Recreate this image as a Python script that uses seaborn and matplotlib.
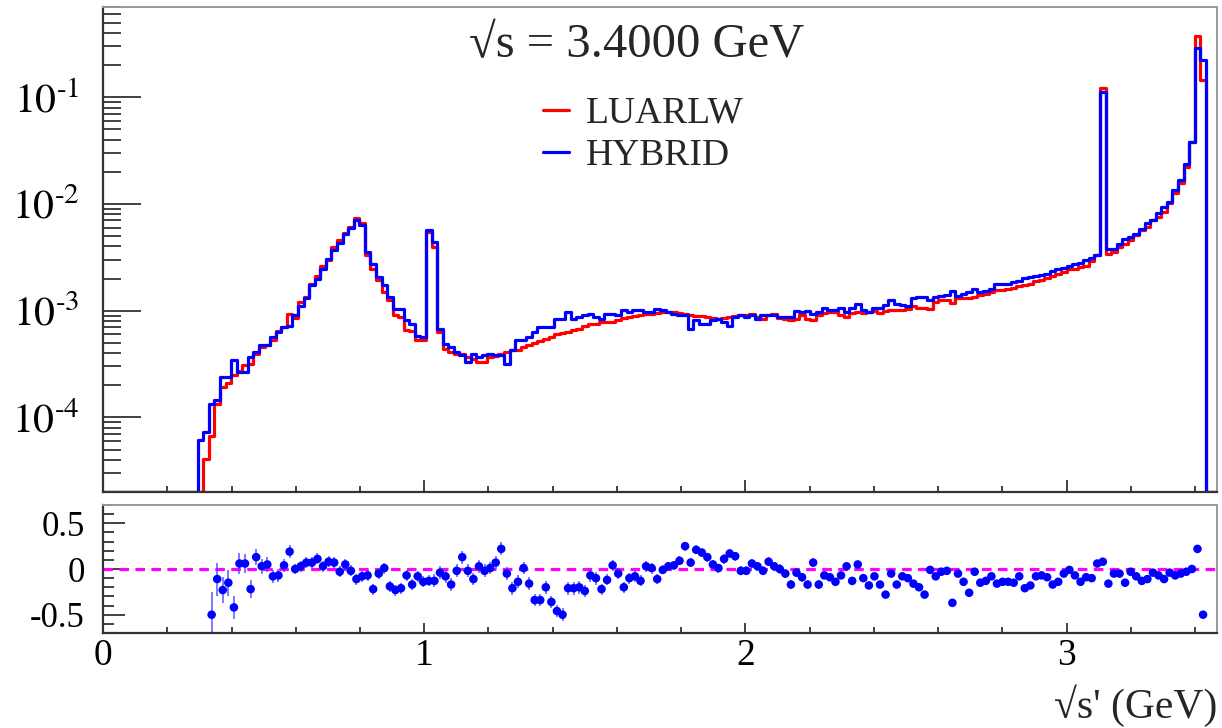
import numpy as np
import pandas as pd
import matplotlib
matplotlib.use("Agg")
import matplotlib.pyplot as plt
import seaborn as sns
from matplotlib.ticker import LogLocator, MultipleLocator, FuncFormatter, NullFormatter

# binning: 200 bins from 0 to 1.02*sqrt(s)
sqrt_s = 3.4
n_bins = 200
x_max = 1.02 * sqrt_s

# LUARLW histogram, first filled bin 18 (units of 1e-3)
luarlw_first = 18
luarlw = [
    0.0407, 0.0675, 0.134, 0.192, 0.210, 0.247, 0.270, 0.307, 0.318, 0.39,
    0.456, 0.48, 0.534, 0.645, 0.71, 0.925, 0.86, 1.21, 1.34, 1.79,
    2.10, 2.61, 3.01, 3.96, 4.57, 5.35, 6.11, 7.46, 6.56, 3.31,
    2.48, 1.93, 1.50, 1.25, 0.904, 0.873, 0.654, 0.645, 0.534, 0.526,
    5.5, 3.96, 0.630, 0.439, 0.409, 0.394, 0.389, 0.367, 0.354, 0.329,
    0.329, 0.367, 0.372, 0.394, 0.409, 0.424, 0.430, 0.456, 0.472, 0.497,
    0.519, 0.546, 0.566, 0.599, 0.617, 0.630, 0.653, 0.677, 0.712, 0.744,
    0.754, 0.776, 0.776, 0.782, 0.823, 0.859, 0.871, 0.897, 0.903, 0.923,
    0.937, 0.950, 0.964, 0.971, 0.964, 0.950, 0.923, 0.903, 0.897, 0.884,
    0.871, 0.859, 0.841, 0.859, 0.871, 0.884, 0.903, 0.903, 0.937, 0.871,
    0.841, 0.903, 0.923, 0.859, 0.841, 0.811, 0.841, 0.903, 0.841, 0.811,
    0.903, 0.950, 0.971, 0.971, 0.903, 0.871, 0.950, 0.971, 0.950, 0.971,
    0.992, 0.950, 0.992, 1.01, 1.02, 1.02, 1.04, 1.10, 1.07, 1.07,
    1.04, 1.21, 1.25, 1.25, 1.18, 1.30, 1.30, 1.32, 1.34, 1.39,
    1.42, 1.50, 1.55, 1.57, 1.61, 1.64, 1.69, 1.73, 1.79, 1.90,
    1.95, 2.04, 2.10, 2.22, 2.31, 2.43, 2.48, 2.57, 2.61, 2.92,
    3.31, 121.4, 3.43, 3.55, 3.96, 4.25, 4.57, 5.09, 5.67, 6.10,
    7.14, 7.57, 8.44, 10.1, 12.53, 15.56, 22.3, 38.3, 376.0, 145.0,
]

# HYBRID histogram, first filled bin 17 (units of 1e-3)
hybrid_first = 17
hybrid = [
    0.061, 0.073, 0.134, 0.144, 0.238, 0.238, 0.347, 0.269, 0.269, 0.367,
    0.409, 0.472, 0.472, 0.566, 0.631, 0.703, 0.72, 0.904, 1.10, 1.30,
    1.73, 2.00, 2.48, 3.06, 3.69, 4.27, 5.28, 5.89, 7.05, 6.33,
    3.56, 2.76, 2.07, 1.73, 1.34, 1.04, 1.04, 0.811, 0.755, 0.574,
    0.566, 5.68, 4.41, 0.677, 0.489, 0.456, 0.409, 0.380, 0.329, 0.394,
    0.367, 0.380, 0.394, 0.380, 0.380, 0.318, 0.424, 0.526, 0.526, 0.566,
    0.630, 0.702, 0.702, 0.702, 0.841, 0.841, 0.971, 0.841, 0.871, 0.903,
    0.937, 0.871, 0.841, 0.937, 0.937, 0.903, 1.007, 0.971, 1.007, 1.007,
    0.971, 0.971, 1.043, 1.007, 0.971, 0.937, 0.903, 0.903, 0.677, 0.811,
    0.754, 0.754, 0.811, 0.841, 0.782, 0.712, 0.871, 0.903, 0.871, 0.903,
    0.841, 0.903, 0.903, 0.903, 0.871, 0.871, 0.871, 0.992, 0.971, 0.992,
    0.937, 0.971, 1.07, 1.01, 1.02, 1.07, 0.971, 1.07, 1.15, 1.02,
    0.971, 1.07, 1.07, 1.12, 1.25, 1.16, 1.12, 1.10, 1.32, 1.34,
    1.34, 1.25, 1.34, 1.36, 1.39, 1.53, 1.36, 1.44, 1.50, 1.61,
    1.50, 1.53, 1.61, 1.79, 1.77, 1.79, 1.86, 1.90, 2.04, 2.07,
    2.10, 2.15, 2.22, 2.35, 2.43, 2.53, 2.60, 2.76, 2.80, 2.97,
    3.14, 3.31, 113.0, 3.82, 3.82, 4.25, 4.74, 4.91, 5.28, 5.88,
    6.56, 7.05, 8.14, 9.40, 10.47, 13.48, 16.73, 23.6, 38.3, 288.0,
    224.0,
]

# (LUARLW - HYBRID) / HYBRID, first point in bin 19
ratio_first = 19
ratio = [
    -0.50, -0.11, -0.23, -0.15, -0.42, 0.06, 0.06, -0.22, 0.13, 0.03,
    0.05, -0.08, -0.07, 0.04, 0.19, 0.00, 0.03, 0.07, 0.07, 0.11,
    0.03, 0.08, 0.07, -0.03, 0.05, -0.02, -0.11, -0.08, -0.07, -0.22,
    -0.05, 0.01, -0.19, -0.23, -0.21, -0.07, -0.17, -0.08, -0.14, -0.13,
    -0.13, -0.04, -0.08, -0.17, -0.02, 0.13, -0.02, -0.11, 0.03, -0.02,
    0.01, 0.07, 0.22, -0.05, -0.21, -0.14, 0.01, -0.16, -0.34, -0.34,
    -0.20, -0.36, -0.46, -0.50, -0.21, -0.21, -0.20, -0.24, -0.07, -0.10,
    -0.22, -0.12, 0.04, -0.05, -0.20, -0.10, -0.08, -0.13, 0.03, 0.01,
    -0.11, -0.01, 0.03, 0.04, 0.09, 0.25, 0.07, 0.21, 0.18, 0.13,
    0.05, 0.01, 0.11, 0.17, 0.14, -0.02, -0.02, 0.06, 0.03, -0.02,
    0.08, 0.03, 0.00, -0.05, -0.17, -0.04, -0.09, -0.17, 0.07, -0.17,
    -0.07, -0.09, -0.14, -0.07, 0.03, -0.13, 0.05, -0.10, -0.18, -0.08,
    -0.17, -0.28, -0.05, -0.17, -0.08, -0.10, -0.16, -0.20, -0.28, -0.01,
    -0.08, -0.03, -0.02, -0.37, -0.05, -0.14, -0.26, -0.03, -0.15, -0.13,
    -0.08, -0.16, -0.14, -0.14, -0.15, -0.08, -0.21, -0.18, -0.08, -0.07,
    -0.09, -0.17, -0.14, -0.05, -0.01, -0.07, -0.14, -0.09, -0.10, 0.06,
    0.08, -0.16, -0.05, -0.05, -0.15, -0.03, -0.08, -0.13, -0.11, -0.04,
    -0.07, -0.11, -0.04, -0.07, -0.05, -0.03, 0.00, 0.22, -0.50,
]
ratio_err = [
    0.25, 0.18, 0.14, 0.14, 0.13, 0.11, 0.10, 0.10, 0.09, 0.08,
    0.08, 0.07, 0.07, 0.07, 0.07, 0.06, 0.06, 0.06, 0.06, 0.06,
    0.06, 0.06, 0.06, 0.06, 0.06, 0.06, 0.06, 0.06, 0.06, 0.06,
    0.06, 0.06, 0.06, 0.06, 0.06, 0.06, 0.06, 0.06, 0.06, 0.06,
    0.07, 0.07, 0.07, 0.07, 0.07, 0.07, 0.07, 0.07, 0.07, 0.07,
    0.07, 0.07, 0.07, 0.07, 0.07, 0.07, 0.07, 0.07, 0.07, 0.07,
    0.07, 0.07, 0.07, 0.07, 0.07, 0.07, 0.07, 0.07, 0.07, 0.07,
    0.06, 0.06, 0.06, 0.06, 0.06, 0.06, 0.06, 0.06, 0.06, 0.06,
    0.05, 0.05, 0.05, 0.05, 0.05, 0.05, 0.05, 0.05, 0.05, 0.05,
    0.05, 0.05, 0.05, 0.05, 0.05, 0.05, 0.05, 0.05, 0.05, 0.05,
    0.05, 0.05, 0.05, 0.05, 0.05, 0.05, 0.05, 0.05, 0.05, 0.05,
    0.04, 0.04, 0.04, 0.04, 0.04, 0.04, 0.04, 0.04, 0.04, 0.04,
    0.04, 0.04, 0.04, 0.04, 0.04, 0.04, 0.04, 0.04, 0.04, 0.04,
    0.04, 0.04, 0.04, 0.04, 0.04, 0.04, 0.04, 0.04, 0.04, 0.04,
    0.03, 0.03, 0.03, 0.03, 0.03, 0.03, 0.03, 0.03, 0.03, 0.03,
    0.03, 0.03, 0.03, 0.03, 0.03, 0.03, 0.03, 0.03, 0.03, 0.03,
    0.03, 0.03, 0.03, 0.03, 0.03, 0.02, 0.02, 0.02, 0.02, 0.02,
    0.02, 0.02, 0.02, 0.02, 0.02, 0.01, 0.01, 0.01, 0.01,
]

edges = np.linspace(0, x_max, n_bins + 1)
centers = 0.5 * (edges[1:] + edges[:-1])

h_lu = np.zeros(n_bins)
h_lu[luarlw_first:luarlw_first + len(luarlw)] = np.array(luarlw) * 1e-3
h_hy = np.zeros(n_bins)
h_hy[hybrid_first:hybrid_first + len(hybrid)] = np.array(hybrid) * 1e-3

# ROOT draws empty bins on the frame bottom
y_lo, y_hi = 2e-5, 0.7
df_hist = pd.DataFrame({
    "center": centers,
    "LUARLW": np.maximum(h_lu, y_lo),
    "HYBRID": np.maximum(h_hy, y_lo),
})

x_ratio = centers[ratio_first:ratio_first + len(ratio)]
df_ratio = pd.DataFrame({"x": x_ratio, "ratio": ratio, "err": ratio_err})

sns.set_style("ticks")
plt.rcParams["font.family"] = ["Liberation Serif", "DejaVu Serif"]
plt.rcParams["mathtext.fontset"] = "stix"

fig = plt.figure(figsize=(12.22, 7.28), dpi=100)
ax_top = fig.add_axes([0.0843, 0.3242, 0.9116, 0.6662])
ax_bot = fig.add_axes([0.0843, 0.1305, 0.9116, 0.1758])

for name, col in (("LUARLW", "#ff0000"), ("HYBRID", "#0000ff")):
    sns.histplot(data=df_hist, x="center", weights=name, bins=edges.tolist(), element="step",
                 fill=False, color=col, lw=2.3, ax=ax_top, label=name)
ax_top.set_yscale("log")
ax_top.set_xlim(0, x_max)
ax_top.set_ylim(y_lo, y_hi)
ax_top.set_xlabel("")
ax_top.set_ylabel("")


def log_label(v, _):
    e = int(round(np.log10(v)))
    if e < 0:
        return r"$10^{\text{-}%d}$" % (-e)
    return r"$10^{%d}$" % e


ax_top.yaxis.set_major_locator(LogLocator(base=10, numticks=12))
ax_top.yaxis.set_minor_locator(LogLocator(base=10, subs=np.arange(2, 10), numticks=12))
ax_top.yaxis.set_major_formatter(FuncFormatter(log_label))
ax_top.yaxis.set_minor_formatter(NullFormatter())
ax_top.xaxis.set_major_locator(MultipleLocator(1))
ax_top.xaxis.set_minor_locator(MultipleLocator(0.2))
ax_top.tick_params(axis="y", which="major", direction="in", length=27, width=1.3,
                   labelsize=30, pad=17)
ax_top.tick_params(axis="y", which="minor", direction="in", length=13, width=1.3)
ax_top.tick_params(axis="x", which="major", direction="in", length=9, width=1.3, labelbottom=False)
ax_top.tick_params(axis="x", which="minor", direction="in", length=4.5, width=1.3)

ax_top.text(0.479, 0.922, "\u221As = 3.4000 GeV", transform=ax_top.transAxes,
            ha="center", va="center", fontsize=35)
ax_top.legend(loc="upper left", bbox_to_anchor=(0.395, 0.816), frameon=False, fontsize=27,
              handlelength=0.7, handletextpad=0.45, labelspacing=0.2, borderpad=0,
              borderaxespad=0)

# ratio panel
ax_bot.axhline(0, color="#ff00ff", ls=(0, (3, 2)), lw=2.3, zorder=1)
ax_bot.errorbar(df_ratio["x"], df_ratio["ratio"], yerr=df_ratio["err"], fmt="none",
                ecolor="#4040ff", elinewidth=1.3, alpha=0.75, zorder=2)
sns.scatterplot(data=df_ratio, x="x", y="ratio", color="#0000ff", s=38, edgecolor="none",
                ax=ax_bot, zorder=3)
ax_bot.set_xlim(0, x_max)
ax_bot.set_ylim(-0.7, 0.7)
ax_bot.yaxis.set_major_locator(MultipleLocator(0.5))
ax_bot.yaxis.set_minor_locator(MultipleLocator(0.1))
ax_bot.xaxis.set_major_locator(MultipleLocator(1))
ax_bot.xaxis.set_minor_locator(MultipleLocator(0.2))
fmt = FuncFormatter(lambda v, _: f"{v:g}" if abs(v) > 1e-9 else "0")
ax_bot.yaxis.set_major_formatter(fmt)
ax_bot.xaxis.set_major_formatter(fmt)
ax_bot.tick_params(axis="y", which="major", direction="in", length=16, width=1.3,
                   labelsize=25, pad=13)
ax_bot.tick_params(axis="y", which="minor", direction="in", length=8, width=1.3)
ax_bot.tick_params(axis="x", which="major", direction="in", length=7, width=1.3,
                   labelsize=27, pad=4)
ax_bot.tick_params(axis="x", which="minor", direction="in", length=4, width=1.3)
ax_bot.set_xlabel("")
ax_bot.set_ylabel("")
fig.text(1217 / 1222, 0.030, "\u221As' (GeV)", ha="right", va="center", fontsize=30)

for ax in (ax_top, ax_bot):
    for side in ("left", "bottom"):
        ax.spines[side].set_color("#333333")
        ax.spines[side].set_linewidth(1.6)
    for side in ("top", "right"):
        ax.spines[side].set_color("#999999")
        ax.spines[side].set_linewidth(1.4)
    ax.tick_params(which="both", colors="#333333", labelcolor="black")

fig.savefig("out.png", dpi=100)
